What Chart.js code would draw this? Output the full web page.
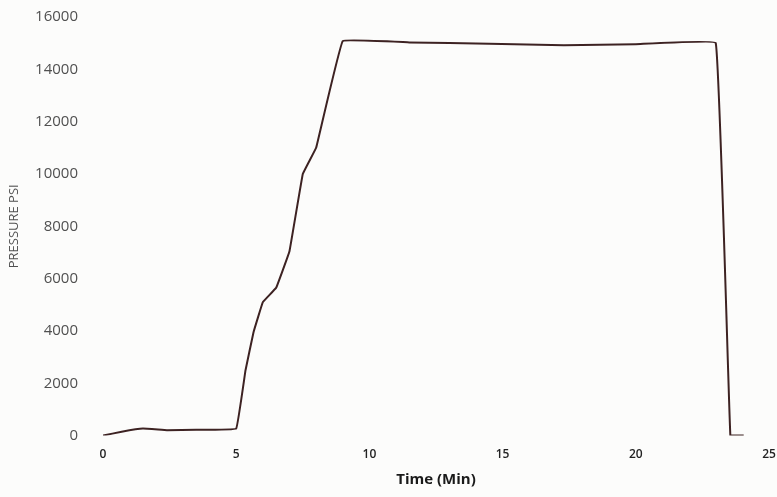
<!DOCTYPE html>
<html>
<head>
<meta charset="utf-8">
<script src="https://cdn.jsdelivr.net/npm/chart.js@4.4.1/dist/chart.umd.min.js"></script>
<style>
  html, body { margin: 0; padding: 0; background: #fcfcfb; }
  #wrap { width: 777px; height: 497px; }
</style>
</head>
<body>
<div id="wrap"><canvas id="chart"></canvas></div>
<script>
// time in minutes and pressure in psi
var timeMin = [0, 0.7, 1.5, 2.4, 3.5, 5, 5.35, 5.65, 6, 6.5, 7, 7.5, 8, 9, 11.5, 14.5, 17.3, 20, 23, 23.55, 24.05];
var pressure = [0, 150, 270, 205, 220, 270, 2500, 3950, 5100, 5650, 7050, 10000, 11000, 15080, 15030, 14980, 14920, 14960, 15010, 0, 0];
var yTicks = [0, 2000, 4000, 6000, 8000, 10000, 12000, 14000, 16000];
var xTicks = [0, 5, 10, 15, 20, 25];

var points = [];
for (var i = 0; i < timeMin.length; i++) {
    points.push({x: timeMin[i], y: pressure[i]});
}

var ctx = document.getElementById("chart").getContext('2d');
var myChart = new Chart(ctx, {
    type: 'line',
    data: {
        datasets: [{
            label: 'Pressure',
            data: points,
            borderColor: '#3d2222',
            borderWidth: 2,
            pointRadius: 0,
            tension: 0.05,
            fill: false
        }]
    },
    options: {
        responsive: true,
        maintainAspectRatio: false,
        animation: false,
        layout: { padding: { top: 17, right: 8, bottom: 8, left: 6 } },
        plugins: {
            legend: { display: false },
            tooltip: { enabled: false }
        },
        scales: {
            x: {
                type: 'linear',
                min: 0,
                max: 25,
                grid: { display: false },
                border: { display: false },
                afterBuildTicks: function(scale) {
                    scale.ticks = xTicks.map(function(v) { return {value: v}; });
                },
                afterFit: function(scale) {
                    scale.paddingRight = 0;
                },
                ticks: {
                    padding: 4,
                    color: '#222',
                    font: { family: "'Open Sans', sans-serif", size: 12, weight: '600' },
                    maxRotation: 0,
                    callback: function(v) { return String(v); }
                },
                title: {
                    display: true,
                    text: 'Time (Min)',
                    color: '#1a1a1a',
                    padding: { top: 5, bottom: 0 },
                    font: { family: "'Open Sans', sans-serif", size: 15, weight: 'bold' }
                }
            },
            y: {
                min: 0,
                max: 16000,
                grid: { display: false },
                border: { display: false },
                afterBuildTicks: function(scale) {
                    scale.ticks = yTicks.map(function(v) { return {value: v}; });
                },
                afterFit: function(scale) {
                    scale.width = 97;
                    scale.paddingTop = 0;
                    scale.paddingBottom = 0;
                },
                ticks: {
                    padding: 17,
                    color: '#505050',
                    font: { family: "'Open Sans', sans-serif", size: 15 },
                    callback: function(v) { return String(v); }
                },
                title: {
                    display: true,
                    text: 'PRESSURE PSI',
                    color: '#505050',
                    padding: { top: 0, bottom: 4 },
                    font: { family: "'Open Sans', sans-serif", size: 13 }
                }
            }
        }
    }
});
</script>
</body>
</html>
